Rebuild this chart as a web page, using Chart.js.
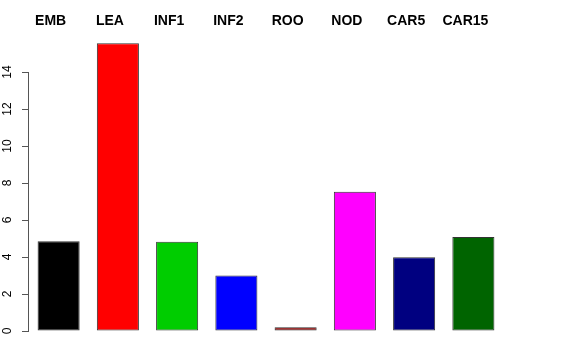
<!DOCTYPE html>
<html>
<head>
<meta charset="utf-8">
<script src="https://cdn.jsdelivr.net/npm/chart.js@4"></script>
<style>
  html, body { margin: 0; padding: 0; background: #fff; }
  #wrap { width: 576px; height: 360px; }
</style>
</head>
<body>
<div id="wrap"><canvas id="barChart" width="576" height="360"></canvas></div>
<script>
var tissues = ["EMB", "LEA", "INF1", "INF2", "ROO", "NOD", "CAR5", "CAR15"];
var expression = [4.85, 15.55, 4.82, 3.0, 0.2, 7.53, 3.98, 5.08];
var barColors = ["#000000", "#FF0000", "#00CD00", "#0000FF", "#8B0000", "#FF00FF", "#000080", "#006400"];
var yTicks = [0, 2, 4, 6, 8, 10, 12, 14];

var fontFamily = "'Liberation Sans', Arial, Helvetica, sans-serif";

// R style axis line, only from first to last tick
var axisLine = {
    id: "axisLine",
    afterDraw: function (chart) {
        var ctx = chart.ctx;
        var y = chart.scales.y;
        var x0 = chart.chartArea.left - 0.5;
        ctx.save();
        ctx.strokeStyle = "#555";
        ctx.lineWidth = 1;
        ctx.beginPath();
        ctx.moveTo(x0, y.getPixelForValue(yTicks[0]));
        ctx.lineTo(x0, y.getPixelForValue(yTicks[yTicks.length - 1]));
        ctx.stroke();
        ctx.restore();
    }
};

new Chart("barChart", {
    type: "bar",
    data: {
        labels: tissues,
        datasets: [{
            data: expression,
            backgroundColor: barColors,
            borderColor: "#333",
            borderWidth: 1,
            borderSkipped: false,
            barPercentage: 0.71,
            categoryPercentage: 1
        }]
    },
    options: {
        responsive: false,
        animation: false,
        layout: {
            padding: { top: 0, left: 0, right: 73, bottom: 29 }
        },
        plugins: {
            legend: { display: false },
            tooltip: { enabled: false }
        },
        scales: {
            x: {
                position: "top",
                grid: { display: false },
                border: { display: false },
                ticks: {
                    autoSkip: false,
                    maxRotation: 0,
                    padding: 0,
                    labelOffset: -8,
                    color: "#000",
                    font: { family: fontFamily, size: 14, weight: "bold", lineHeight: 0.9 }
                },
                afterFit: function (scale) { scale.height = 35; }
            },
            y: {
                min: 0,
                max: 16,
                grid: {
                    drawOnChartArea: false,
                    drawTicks: true,
                    tickLength: 7,
                    color: "#555"
                },
                border: { display: false },
                ticks: {
                    stepSize: 2,
                    minRotation: 90,
                    maxRotation: 90,
                    crossAlign: "center",
                    padding: 8,
                    color: "#000",
                    font: { family: fontFamily, size: 12 }
                },
                afterBuildTicks: function (scale) {
                    scale.ticks = yTicks.map(function (v) { return { value: v }; });
                },
                afterFit: function (scale) { scale.width = 29; }
            }
        }
    },
    plugins: [axisLine]
});
</script>
</body>
</html>
